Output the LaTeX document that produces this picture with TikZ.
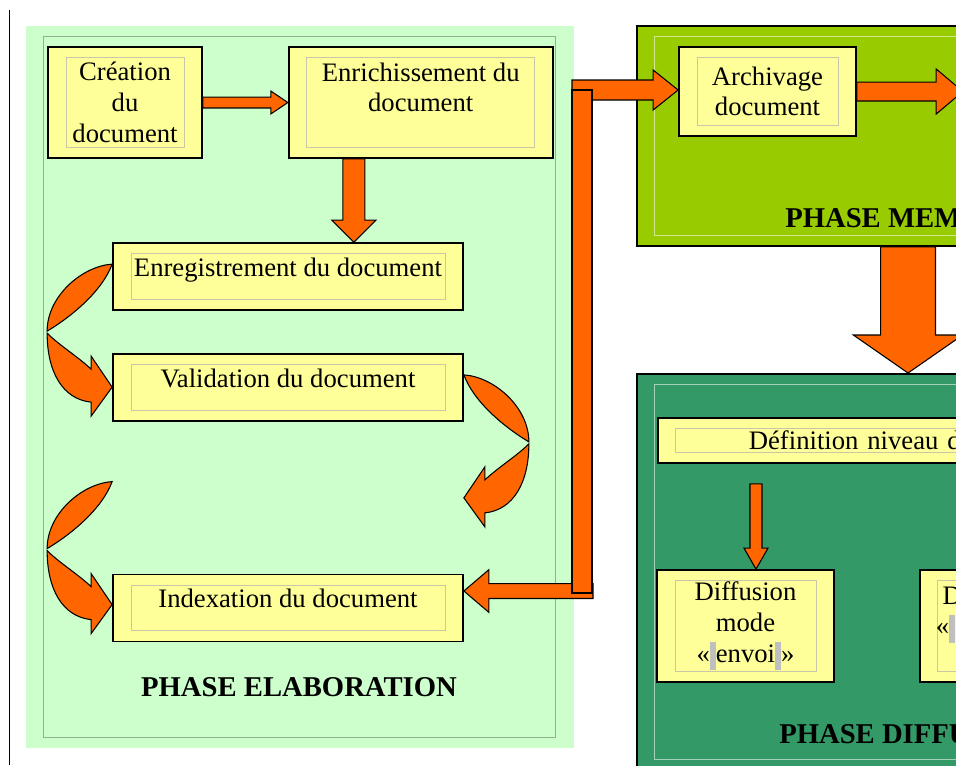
\documentclass[tikz,border=0pt]{standalone}
\usepackage{fontspec}
\setmainfont{Liberation Serif}
\usetikzlibrary{calc,positioning}

\definecolor{elabgreen}{HTML}{CCFFCC}
\definecolor{memgreen}{HTML}{99CC00}
\definecolor{diffgreen}{HTML}{339966}
\definecolor{boxyellow}{HTML}{FFFF99}
\definecolor{boxline}{HTML}{C8C8A8}
\definecolor{arroworange}{HTML}{FF6600}

\newcommand{\nbsmark}{{\color{black!25}\rule[-6pt]{4.5pt}{21pt}}}

\begin{document}
\begin{tikzpicture}[x=0.75pt,y=-0.75pt,
    inner frame/.style={path picture={\draw[#1,line width=0.7pt]
      ([shift={(13.5pt,-8pt)}]path picture bounding box.north west) rectangle
      ([shift={(-13.5pt,8pt)}]path picture bounding box.south east);}},
    taskbox/.style={draw=black,line width=1.3pt,fill=boxyellow,inner sep=0pt,
      align=center,font=\fontsize{20}{23}\selectfont,inner frame=boxline},
    lowtext/.style={text height=13pt,text depth=13pt},
    panel/.style={inner sep=0pt,anchor=north west,line width=1.3pt},
    phaselabel/.style={inner sep=0pt,font=\fontsize{21.5}{24}\selectfont\bfseries},
    arrowshape/.style={draw=black,fill=arroworange,line width=0.8pt,line join=miter},
    barw/.store in=\barw, headw/.store in=\headw, headl/.store in=\headl,
    barw=5pt, headw=10pt, headl=12pt,
    blockarrow/.style={arrowshape,
      to path={let \p1=(\tikztostart), \p2=(\tikztotarget),
        \n1={atan2(\y2-\y1,\x2-\x1)}, \n2={veclen(\x2-\x1,\y2-\y1)-\headl} in
        ($(\p1)+(\n1+90:\barw)$) -- ($(\p1)+(\n1:\n2*1pt)+(\n1+90:\barw)$)
        -- ($(\p1)+(\n1:\n2*1pt)+(\n1+90:\headw)$) -- (\p2)
        -- ($(\p1)+(\n1:\n2*1pt)+(\n1-90:\headw)$)
        -- ($(\p1)+(\n1:\n2*1pt)+(\n1-90:\barw)$)
        -- ($(\p1)+(\n1-90:\barw)$) -- cycle}},
    bendarrow/.pic={
      \filldraw[arrowshape] (0,22) .. controls (-30,24) and (-65,54) .. (-65,89)
        .. controls (-40,74) and (-10,49) .. (0,22) -- cycle;
      \filldraw[arrowshape] (-65,91) .. controls (-65,129) and (-50,157) .. (-21,160)
        -- (-21,174) -- (0,145) -- (-21,114) -- (-21,127)
        .. controls (-35,114) and (-53,103) .. (-65,91) -- cycle;
    }]

  \useasboundingbox (0,0) rectangle (956,765);
  \clip (0,0) rectangle (956,765);
  \fill[white] (0,0) rectangle (956,765);

  %Phases%
  \node[panel,fill=elabgreen,inner frame={black!30!elabgreen},
        minimum width=411pt,minimum height=541.5pt] (elab) at (25,25) {};
  \node[panel,draw=black,fill=memgreen,inner frame={memgreen!45!white},
        minimum width=375pt,minimum height=165pt] (mem) at (636,25) {};
  \node[panel,draw=black,fill=diffgreen,inner frame={diffgreen!45!white},
        minimum width=375pt,minimum height=297pt] (diff) at (636,373) {};

  \node[phaselabel] (elabtitle) at (299,687) {PHASE ELABORATION};
  \node[phaselabel,anchor=base west] (memtitle) at (785,227) {PHASE MEM};
  \node[phaselabel,anchor=base west] (difftitle) at (779,743) {PHASE DIFFU};

  %Elaboration%
  \node[taskbox,minimum width=115.5pt,minimum height=83.25pt] (creation) at (125,102.5)
    {Création\\du\\document};
  \node[taskbox,minimum width=198pt,minimum height=83.25pt] (enrich) [right=63.75pt of creation]
    {Enrichissement du\\document\\\mbox{}};
  \node[taskbox,lowtext,minimum width=262.5pt,minimum height=50.25pt] (enreg) at (288,276.5)
    {Enregistrement du document};
  \node[taskbox,lowtext,minimum width=262.5pt,minimum height=50.25pt] (valid) [below=31.5pt of enreg]
    {Validation du document};
  \node[taskbox,lowtext,minimum width=262.5pt,minimum height=50.25pt] (index) [below=114pt of valid]
    {Indexation du document};

  %Memorisation%
  \node[taskbox,minimum width=132.75pt,minimum height=66.75pt] (archiv) at (767.5,91.5)
    {Archivage\\document};

  %Diffusion%
  \node[taskbox,anchor=west,align=left,text width=250pt,inner xsep=68.25pt,
        minimum height=33.75pt] (defin) at (657,440.5) {Définition niveau d};
  \node[taskbox,minimum width=132.75pt,minimum height=84pt] (diff1) at (745.5,626)
    {Diffusion\\mode\\«\nbsmark envoi\nbsmark»};
  \node[taskbox,anchor=west,align=left,text width=150pt,inner xsep=12pt,
        minimum height=84pt] (diff2) at (919,626)
    {\hspace*{5pt}D\\«\nbsmark\\\mbox{}};

  %Arrows%
  \draw[blockarrow,barw=4.1pt,headw=8.6pt,headl=12.8pt] (creation.east) to (enrich.west);
  \coordinate (enrichout) at ($(enrich.south west)+(66,0)$);
  \draw[blockarrow,barw=8.25pt,headw=16.5pt,headl=16.5pt] (enrichout) to (enrichout |- enreg.north);

  \pic at (enreg.north west) {bendarrow};
  \pic[xscale=-1] at (valid.north east) {bendarrow};
  \pic at ($(index.north west)+(0,-114)$) {bendarrow};

  \coordinate (barnw) at (572,90);
  \coordinate (barse) at (592,593);
  \coordinate (barbot) at (593,591);
  \draw[blockarrow,barw=7.5pt,headw=15pt,headl=18.75pt] (barnw) to (barnw -| archiv.west);
  \draw[blockarrow,barw=5.6pt,headw=16pt,headl=18.75pt] (barbot) to (barbot -| index.east);
  \filldraw[arrowshape] (barnw) rectangle (barse);

  \coordinate (memout) at ($(archiv.east)+(106,0)$);
  \draw[blockarrow,barw=7.1pt,headw=16.9pt,headl=20pt] (archiv.east) to (memout);

  \coordinate (bigx) at (908,0);
  \draw[blockarrow,barw=20.6pt,headw=41pt,headl=28.5pt] (bigx |- mem.south) to (bigx |- diff.north);

  \coordinate (definout) at ($(defin.south west)+(99,20)$);
  \draw[blockarrow,barw=4.5pt,headw=9pt,headl=15.75pt] (definout) to (definout |- diff1.north);

  \draw[line width=1.2pt] (9.5,10) -- (9.5,765);
\end{tikzpicture}
\end{document}
